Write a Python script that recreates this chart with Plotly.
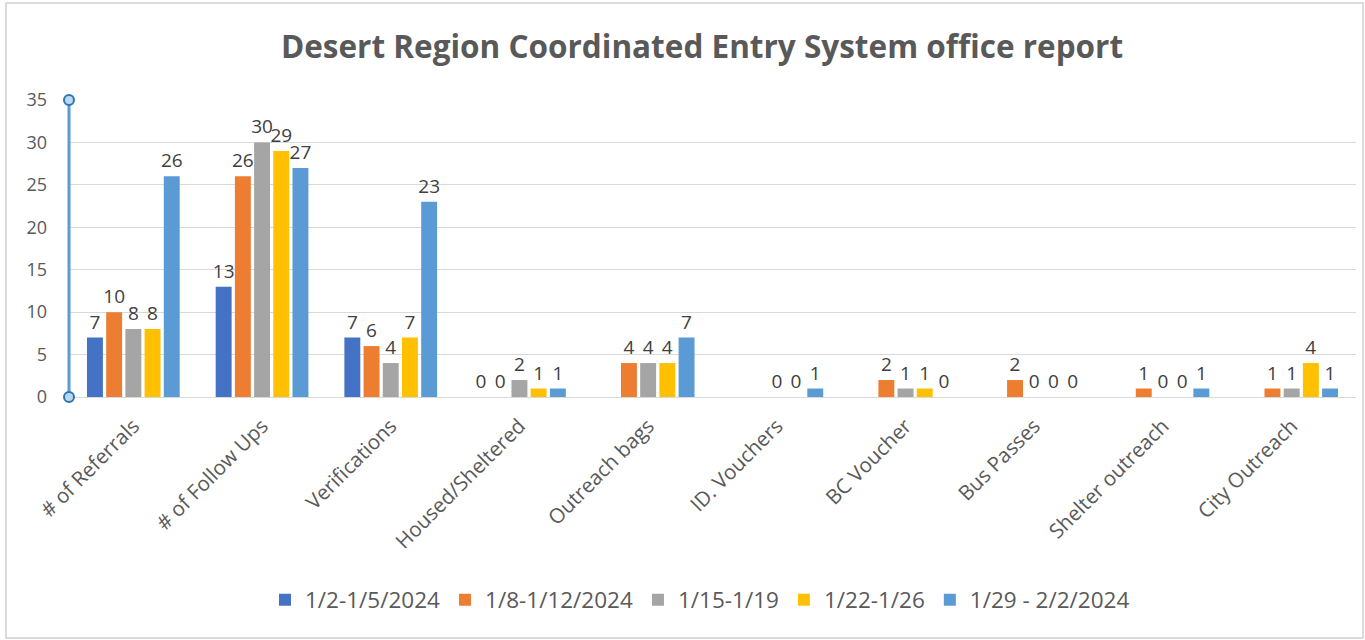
import plotly.graph_objects as go

categories = ["# of Referrals", "# of Follow Ups", "Verifications", "Housed/Sheltered",
              "Outreach bags", "ID. Vouchers", "BC Voucher", "Bus Passes",
              "Shelter outreach", "City Outreach"]
series_names = ["1/2-1/5/2024", "1/8-1/12/2024", "1/15-1/19", "1/22-1/26", "1/29 - 2/2/2024"]
s1 = [7, 13, 7, 0, None, None, None, None, None, None]
s2 = [10, 26, 6, 0, 4, None, 2, 2, 1, 1]
s3 = [8, 30, 4, 2, 4, 0, 1, 0, 0, 1]
s4 = [8, 29, 7, 1, 4, 0, 1, 0, 0, 4]
s5 = [26, 27, 23, 1, 7, 1, 0, 0, 1, 1]
colors = ["#4472C4", "#ED7D31", "#A5A5A5", "#FFC000", "#5B9BD5"]

W, H = 1365, 640
L, R, T, B = 69, 9, 100, 243
font = "Open Sans"

fig = go.Figure()
for name, vals, c in zip(series_names, [s1, s2, s3, s4, s5], colors):
    fig.add_trace(go.Bar(
        x=categories, y=vals, name=name, marker_color=c, marker_line_width=0,
        text=[("" if v is None else str(v)) for v in vals],
        textposition="outside", constraintext="none", cliponaxis=False,
        textfont=dict(size=19, color="#404040", family=font),
    ))

ph = H - T - B
def py(p):
    return (H - B - p) / ph

pw = W - L - R
def px(p):
    return (p - L) / pw

shapes = [
    dict(type="rect", xref="paper", yref="paper", x0=px(6), x1=px(1363), y0=py(638), y1=py(3),
         line=dict(color="#D0D0D0", width=1.5), fillcolor="rgba(0,0,0,0)", layer="below"),
    dict(type="line", xref="paper", yref="paper", x0=0, x1=0, y0=0, y1=1,
         line=dict(color="#5B9BD5", width=3)),
]
for yv in [0, 1]:
    cpix = H - B - yv * ph
    shapes.append(dict(type="circle", xref="paper", yref="paper",
                       x0=px(L - 5), x1=px(L + 5), y0=py(cpix + 5), y1=py(cpix - 5),
                       line=dict(color="#2E75B6", width=2), fillcolor="#BDD7EE"))

fig.update_layout(
    width=W, height=H,
    margin=dict(l=L, r=R, t=T, b=B, autoexpand=False),
    paper_bgcolor="white", plot_bgcolor="white",
    barmode="group", bargap=0.254, bargroupgap=0.17,
    title=dict(text="<b>Desert Region Coordinated Entry System office report</b>",
               x=px(702), xanchor="center", xref="paper", y=1 - 47 / H, yanchor="middle",
               font=dict(family=font, size=31.5, color="#595959")),
    showlegend=True,
    legend=dict(orientation="h", x=px(700), xanchor="center", y=py(600), yanchor="middle",
                font=dict(family=font, size=22.5, color="#595959"), itemwidth=30,
                traceorder="normal"),
    shapes=shapes,
    font=dict(family=font),
)
fig.update_xaxes(tickangle=-45, tickfont=dict(family=font, size=20.5, color="#595959"),
                 showgrid=False, showline=False, ticks="", automargin=False,
                 ticklabelstandoff=12)
fig.update_yaxes(range=[0, 35], dtick=5, tickfont=dict(family=font, size=18, color="#595959"),
                 showgrid=True, gridcolor="#D9D9D9", gridwidth=1, zeroline=True,
                 zerolinecolor="#D9D9D9", zerolinewidth=1, showline=False, ticks="",
                 ticklabelstandoff=21, automargin=False)

fig.write_html("out.html", config={"displayModeBar": False},
               post_script="document.body.style.margin='0';document.body.style.overflow='hidden';")
